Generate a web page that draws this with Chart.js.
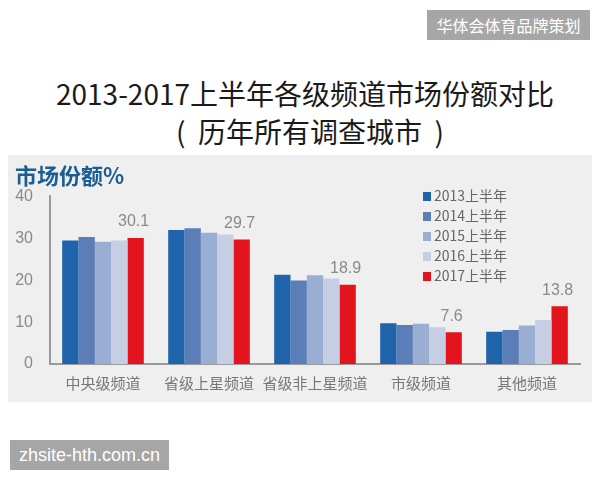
<!DOCTYPE html>
<html>
<head>
<meta charset="utf-8">
<script src="https://cdn.jsdelivr.net/npm/chart.js@4"></script>
<style>
  body { margin: 0; width: 600px; height: 480px; background: #fff; position: relative; overflow: hidden; font-family: "Noto Sans CJK SC", sans-serif; }
  .tag { position: absolute; background: #a6a6a6; color: #fff; text-align: center; }
  #tagTop { left: 427px; top: 10px; width: 163px; height: 30px; line-height: 30px; font-size: 16px; }
  #tagBottom { left: 10px; top: 440px; width: 159px; height: 30px; line-height: 30px; font-size: 18px; font-family: "Liberation Sans", Arial, sans-serif; }
  .title { position: absolute; left: 0; width: 600px; text-align: center; color: #1a1a1a; font-size: 28px; white-space: pre; }
  #t1 { top: 73px; padding-left: 10px; width: 590px; }
  #t2 { top: 111px; padding-left: 20px; width: 580px; }
  #panel { position: absolute; left: 8px; top: 155px; width: 584px; height: 247px; background: #efefef; }
</style>
</head>
<body>
<div class="tag" id="tagTop">华体会体育品牌策划</div>
<div class="title" id="t1">2013-2017上半年各级频道市场份额对比</div>
<div class="title" id="t2">(  历年所有调查城市  )</div>
<div id="panel"><canvas id="chart" width="584" height="247"></canvas></div>
<div class="tag" id="tagBottom">zhsite-hth.com.cn</div>
<script>
const categories = ["中央级频道", "省级上星频道", "省级非上星频道", "市级频道", "其他频道"];
const seriesLabels = ["2013上半年", "2014上半年", "2015上半年", "2016上半年", "2017上半年"];
const share2013 = [29.5, 32.0, 21.3, 9.7, 7.7];
const share2014 = [30.3, 32.4, 19.9, 9.3, 8.1];
const share2015 = [29.2, 31.3, 21.2, 9.6, 9.2];
const share2016 = [29.5, 30.9, 20.4, 8.8, 10.5];
const share2017 = [30.1, 29.7, 18.9, 7.6, 13.8];
const yTicks = [0, 10, 20, 30, 40];

const COLORS = ["#1f63ab", "#5c7eb8", "#9aaed3", "#c6cee3", "#e3141d"];
const FONT = "'Noto Sans CJK SC', sans-serif";

// legend drawn inside the plot area, stacked vertically
const innerLegend = {
  id: "innerLegend",
  afterDraw(chart) {
    const ctx = chart.ctx;
    ctx.save();
    ctx.font = "14px " + FONT;
    ctx.textBaseline = "middle";
    chart.data.datasets.forEach((ds, i) => {
      const y = 41 + i * 20;
      ctx.fillStyle = ds.backgroundColor;
      ctx.fillRect(415, y - 4, 8, 9);
      ctx.fillStyle = "#666";
      ctx.fillText(ds.label, 426, y);
    });
    ctx.restore();
  },
};

// value labels above the last series only
const lastValues = {
  id: "lastValues",
  afterDatasetsDraw(chart) {
    const ctx = chart.ctx;
    const last = chart.data.datasets.length - 1;
    const meta = chart.getDatasetMeta(last);
    ctx.save();
    ctx.font = "16px 'Liberation Sans', Arial, sans-serif";
    ctx.fillStyle = "#8a8a8a";
    ctx.textAlign = "center";
    ctx.textBaseline = "bottom";
    meta.data.forEach((bar, i) => {
      ctx.fillText(chart.data.datasets[last].data[i].toFixed(1), bar.x - 2, bar.y - 8);
    });
    ctx.restore();
  },
};

const allSeries = [share2013, share2014, share2015, share2016, share2017];

new Chart(document.getElementById("chart"), {
  type: "bar",
  data: {
    labels: categories,
    datasets: allSeries.map((d, i) => ({
      label: seriesLabels[i],
      data: d,
      backgroundColor: COLORS[i],
      borderWidth: 0,
      categoryPercentage: 0.77,
      barPercentage: 1.0,
    })),
  },
  options: {
    responsive: false,
    animation: false,
    layout: { padding: { top: 0, left: 7, right: 12, bottom: 0 } },
    plugins: {
      legend: { display: false },
      tooltip: { enabled: false },
      title: {
        display: true,
        text: "市场份额%",
        align: "start",
        color: "#1c5e92",
        font: { family: FONT, size: 22, weight: "bold" },
        padding: { top: 7, bottom: 8 },
      },
    },
    scales: {
      x: {
        grid: { display: false, drawTicks: false },
        border: { color: "#9a9a9a", width: 2 },
        ticks: {
          color: "#777",
          padding: 10,
          maxRotation: 0,
          minRotation: 0,
          autoSkip: false,
          font: { family: FONT, size: 15 },
        },
        afterFit: (s) => { s.height = 38; },
      },
      y: {
        min: 0,
        max: 40,
        afterBuildTicks: (s) => { s.ticks = yTicks.map((v) => ({ value: v })); },
        grid: { display: false, drawTicks: false },
        border: { color: "#9a9a9a", width: 2 },
        ticks: {
          color: "#8a8a8a",
          padding: 17,
          font: { family: "'Liberation Sans', Arial, sans-serif", size: 16 },
        },
        afterFit: (s) => { s.width = 35; },
      },
    },
  },
  plugins: [innerLegend, lastValues],
});
</script>
</body>
</html>
